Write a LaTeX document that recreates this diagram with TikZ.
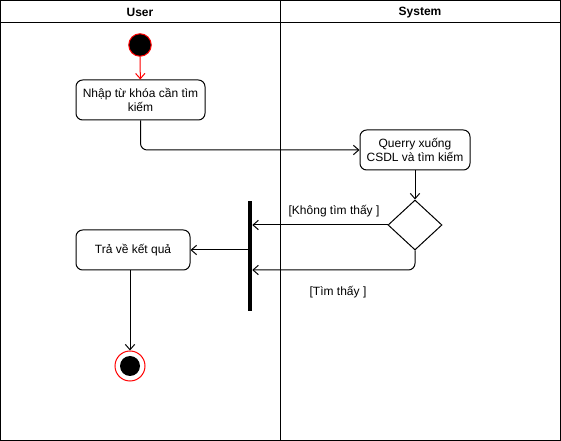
\documentclass[tikz,border=0pt]{standalone}
\usepackage{fontspec}
\setmainfont{Liberation Sans}
\usetikzlibrary{arrows.meta,shapes.geometric}
\begin{document}
\begin{tikzpicture}[x=0.75pt,y=-0.75pt,
  lane/.style={draw=black, line width=0.75pt},
  act/.style={draw=black, rounded corners=5pt, line width=0.75pt, align=center, font=\fontsize{9}{10.5}\selectfont, inner sep=0pt},
  flow/.style={draw=black, line width=0.75pt, -{Straight Barb[length=4pt,width=7pt]}, rounded corners=5pt},
  lbl/.style={font=\fontsize{9}{10.5}\selectfont, inner sep=0pt}]
\useasboundingbox (0,0) rectangle (561,441);
\fill[white] (0,0) rectangle (561,441);
% swimlanes
\draw[lane] (0.5,0.5) rectangle (560.5,440.5);
\draw[lane] (0.5,23) -- (560.5,23);
\draw[lane] (280.5,0.5) -- (280.5,440.5);
\node[font=\bfseries\fontsize{9}{10.5}\selectfont] (huser) at (140,12.5) {User};
\node[font=\bfseries\fontsize{9}{10.5}\selectfont] (hsys) at (420,12.5) {System};
% nodes
\node[circle, fill=black, draw=red, line width=0.75pt, minimum size=22.5*0.75pt, inner sep=0pt] (start) at (140,45) {};
\node[act, minimum width=129*0.75pt, minimum height=40*0.75pt] (a1) at (140.5,100) {Nhập từ khóa cần tìm\\kiếm};
\node[act, minimum width=110*0.75pt, minimum height=40*0.75pt] (a2) at (415,150) {Querry xuống\\CSDL và tìm kiếm};
\node[diamond, draw=black, line width=0.75pt, minimum width=54*0.75pt, minimum height=50*0.75pt, inner sep=0pt] (dec) at (415,225) {};
\node[fill=black, minimum width=4*0.75pt, minimum height=110*0.75pt, inner sep=0pt] (bar) at (250,256) {};
\node[act, minimum width=114*0.75pt, minimum height=40*0.75pt] (a3) at (133,250) {Trả về kết quả};
\node[circle, draw=red, line width=0.75pt, minimum size=30*0.75pt, inner sep=0pt] (end) at (130,366) {};
\node[circle, fill=black, minimum size=20*0.75pt, inner sep=0pt] (endin) at (end.center) {};
% connectors
\draw[flow, draw=red] (start) -- (a1);
\draw[flow] (a1.south) |- (a2.west);
\draw[flow] (a2) -- (dec);
\draw[flow] (dec.west) -- (bar.east |- dec.west);
\coordinate (c270) at (415,270);
\draw[flow] (dec.south) |- (bar.east |- c270);
\draw[flow] (bar.west |- a3.east) -- (a3.east);
\draw[flow] (a3.south -| end) -- (end.north);
% labels
\node[lbl] (l1) at (334,211) {[Không tìm thấy ]};
\node[lbl] (l2) at (338,292) {[Tìm thấy ]};
\end{tikzpicture}
\end{document}
